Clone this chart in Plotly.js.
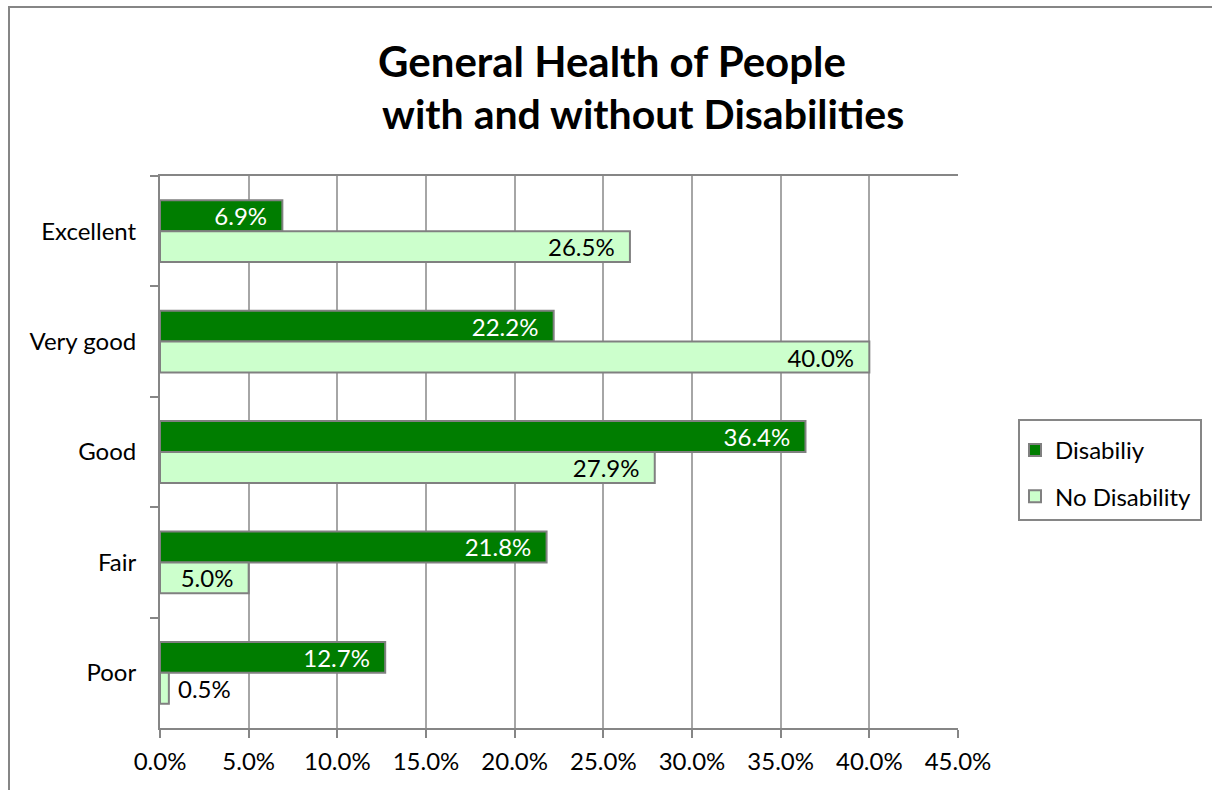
<!DOCTYPE html>
<html>
<head>
<meta charset="utf-8">
<script src="https://cdn.plot.ly/plotly-3.0.1.min.js"></script>
<style>
  html, body { margin: 0; padding: 0; background: #fff; }
  #wrap { position: relative; width: 1212px; height: 790px; overflow: hidden; }
  #frame { position: absolute; left: 8px; top: 6px; width: 1300px; height: 900px;
           border-left: 2px solid #868686; border-top: 2px solid #868686; }
  #chart { position: absolute; left: 0; top: 0; width: 1212px; height: 790px; }
</style>
</head>
<body>
<div id="wrap">
  <div id="frame"></div>
  <div id="chart"></div>
</div>
<script>
const categories = ["Excellent", "Very good", "Good", "Fair", "Poor"];
const disabilityValues = [6.9, 22.2, 36.4, 21.8, 12.7];
const noDisabilityValues = [26.5, 40.0, 27.9, 5.0, 0.5];
const seriesNames = ["Disabiliy", "No Disability"];
const titleLine1 = "General Health of People";
const titleLine2 = "with and without Disabilities";

const FONT = "Lato, 'Open Sans', sans-serif";
const LABEL_SIZE = 24;
const TITLE_SIZE = 41;
const NB = "\u00a0";

// plot area in pixels
const PL = 160, PR = 958, PT = 176, PB = 728;
const px2paperX = x => (x - PL) / (PR - PL);
const px2paperY = y => (PB - y) / (PB - PT);

const traces = [
  {
    type: "bar", orientation: "h",
    name: seriesNames[0],
    y: categories, x: disabilityValues,
    marker: { color: "#007d00", line: { color: "#808080", width: 2 } },
    texttemplate: "%{x:.1f}%" + NB + NB,
    textposition: "inside", insidetextanchor: "end",
    textfont: { family: FONT, size: LABEL_SIZE, color: "#ffffff" },
    constraintext: "none",
    cliponaxis: false,
    legendgroup: "a",
    hoverinfo: "skip"
  },
  {
    type: "bar", orientation: "h",
    name: seriesNames[1],
    y: categories, x: noDisabilityValues,
    marker: { color: "#ccffcc", line: { color: "#808080", width: 2 } },
    texttemplate: noDisabilityValues.map(v => v < 2 ? NB + "%{x:.1f}%" : "%{x:.1f}%" + NB + NB),
    textposition: noDisabilityValues.map(v => v < 2 ? "outside" : "inside"),
    insidetextanchor: "end",
    textfont: { family: FONT, size: LABEL_SIZE, color: "#000000" },
    constraintext: "none",
    cliponaxis: false,
    legendgroup: "b",
    hoverinfo: "skip"
  }
];

const layout = {
  width: 1212, height: 790,
  paper_bgcolor: "rgba(0,0,0,0)",
  plot_bgcolor: "rgba(0,0,0,0)",
  margin: { l: PL, r: 1212 - PR, t: PT, b: 790 - PB, pad: 0 },
  font: { family: FONT, size: LABEL_SIZE, color: "#000" },
  barmode: "group",
  bargap: 0.44,
  bargroupgap: 0,
  showlegend: true,
  title: {
    text: "<b>" + titleLine1 + "</b>",
    font: { family: FONT, size: 42, color: "#000" },
    x: 612 / 1212, xanchor: "center", xref: "container",
    y: 1 - 62 / 790, yanchor: "middle", yref: "container"
  },
  annotations: [{
    text: "<b>" + titleLine2 + "</b>",
    font: { family: FONT, size: TITLE_SIZE, color: "#000" },
    xref: "paper", yref: "paper",
    x: px2paperX(643), y: px2paperY(113),
    xanchor: "center", yanchor: "middle",
    showarrow: false
  }],
  shapes: [{
    type: "rect", xref: "paper", yref: "paper",
    x0: px2paperX(1019), x1: px2paperX(1201),
    y0: px2paperY(420), y1: px2paperY(520),
    line: { color: "#868686", width: 2 },
    fillcolor: "rgba(0,0,0,0)", layer: "above"
  }],
  xaxis: {
    range: [0, 45], dtick: 5, tick0: 0,
    ticksuffix: "%", tickformat: ".1f",
    showgrid: true, gridcolor: "#a6a6a6", gridwidth: 2,
    showline: true, linecolor: "#868686", linewidth: 2, mirror: true,
    ticks: "outside", ticklen: 8, tickwidth: 2, tickcolor: "#868686",
    ticklabelstandoff: 3,
    zeroline: false,
    tickfont: { family: FONT, size: LABEL_SIZE, color: "#000" },
    fixedrange: true
  },
  yaxis: {
    type: "category",
    categoryorder: "array", categoryarray: categories,
    autorange: "reversed",
    showgrid: false,
    showline: true, linecolor: "#868686", linewidth: 2,
    ticks: "outside", tickson: "boundaries", ticklen: 8, tickwidth: 2, tickcolor: "#868686",
    ticklabelstandoff: 17,
    tickfont: { family: FONT, size: LABEL_SIZE, color: "#000" },
    fixedrange: true
  },
  legend: {
    xref: "container", yref: "container",
    x: 1015 / 1212, y: 1 - 428 / 790,
    xanchor: "left", yanchor: "top",
    borderwidth: 0,
    bgcolor: "rgba(0,0,0,0)",
    traceorder: "grouped",
    tracegroupgap: 12,
    font: { family: FONT, size: LABEL_SIZE, color: "#000" },
    itemwidth: 30
  }
};

Plotly.newPlot("chart", traces, layout, { displayModeBar: false, staticPlot: true });
</script>
</body>
</html>
